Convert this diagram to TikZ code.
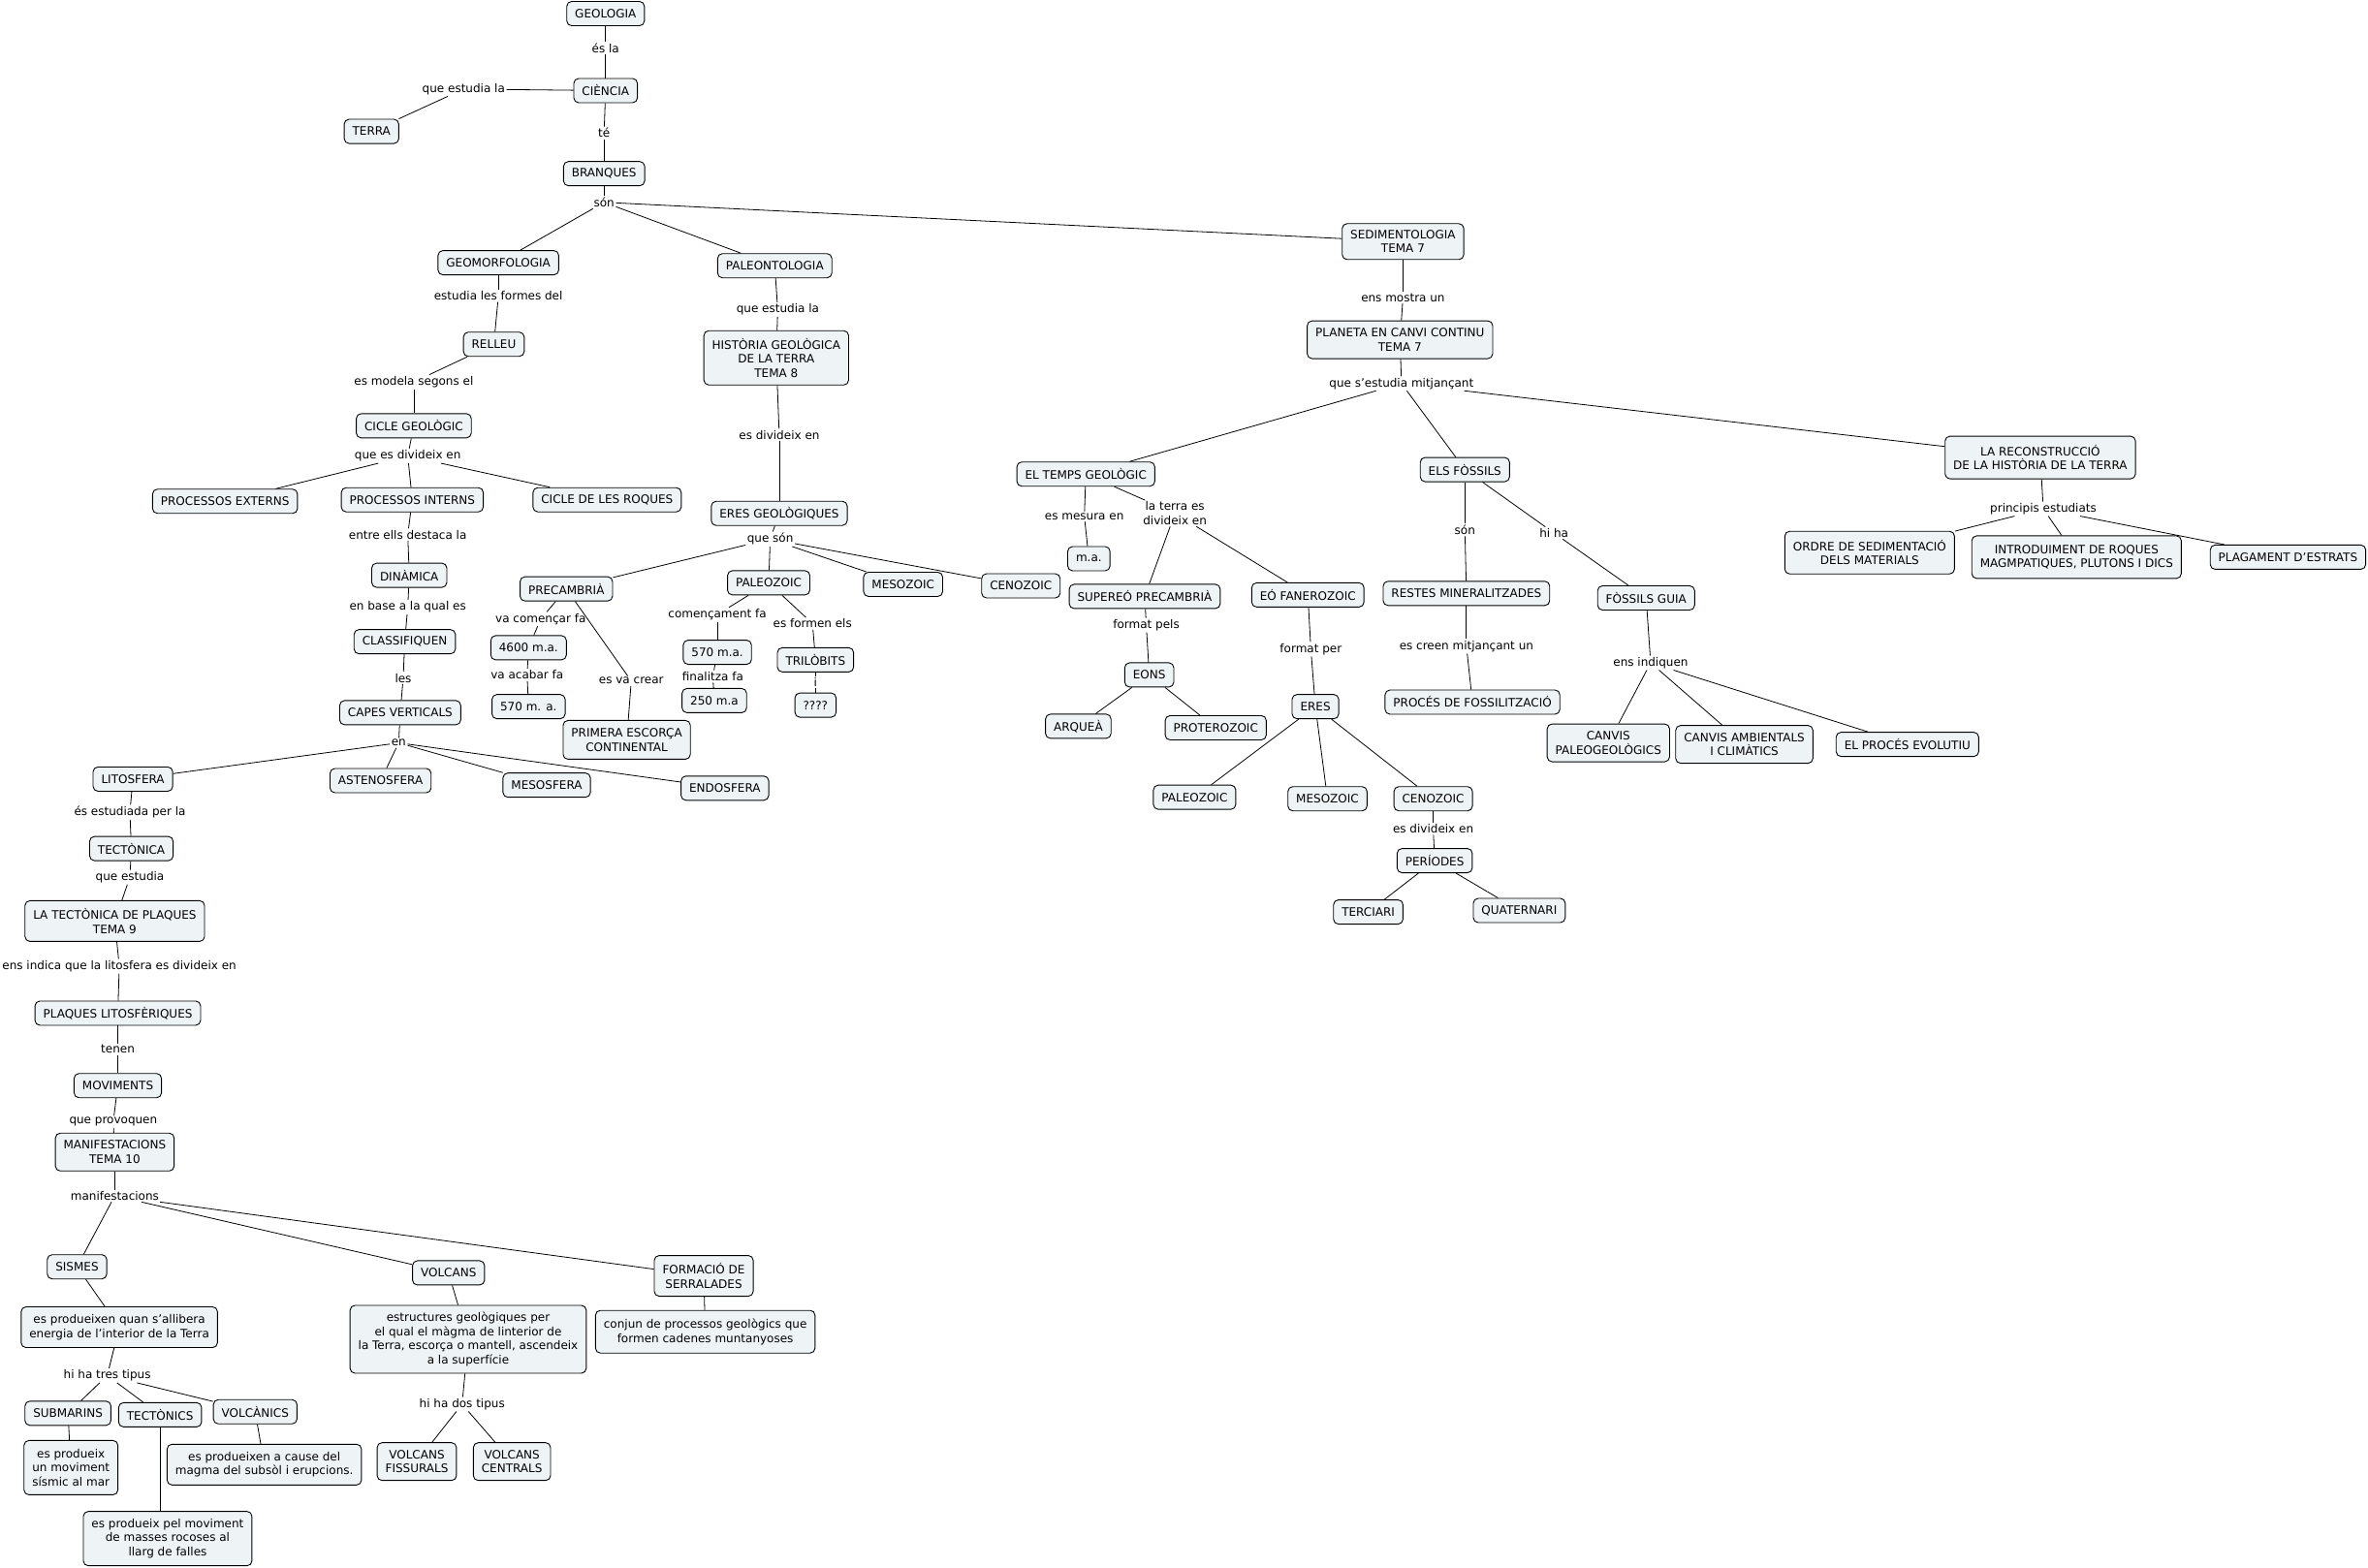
\documentclass[tikz,border=0pt]{standalone}
\usepackage{fontspec}
\setmainfont{DejaVu Sans}
\definecolor{boxfill}{RGB}{238,243,245}
\newcommand\mapfont{\fontsize{12}{14.5}\selectfont}
\tikzset{
  box/.style={draw=black, fill=boxfill, rounded corners=5pt, line width=0.9pt,
    inner xsep=8.5pt, inner ysep=4pt, minimum height=25pt, align=center, font=\mapfont},
  lbl/.style={inner sep=1.5pt, font=\mapfont, align=center},
  conn/.style={line width=0.8pt}
}
\begin{document}
\begin{tikzpicture}[x=1.558pt,y=-1.558pt]
\useasboundingbox[fill=white] (0,0) rectangle (1568,1038);
% ---------- top ----------
\node[box] (geologia) at (401,9) {GEOLOGIA};
\node[lbl] (l1) at (401,32) {és la};
\node[box] (ciencia) at (401,60) {CIÈNCIA};
\node[lbl] (l2) at (307,59) {que estudia la};
\node[box] (terra) at (246,87) {TERRA};
\node[lbl] (l3) at (400,88) {té};
\node[box] (branques) at (400,115) {BRANQUES};
\node[lbl] (l4) at (400,134) {són};
\node[box] (geomorf) at (330,174) {GEOMORFOLOGIA};
\node[box] (paleont) at (513,176) {PALEONTOLOGIA};
\node[box, minimum height=37pt] (sediment) at (929,160) {SEDIMENTOLOGIA\\TEMA 7};
% ---------- left branch ----------
\node[lbl] (l5) at (330,196) {estudia les formes del};
\node[box] (relleu) at (327,228) {RELLEU};
\node[lbl] (l6) at (274,253) {es modela segons el};
\node[box] (cicle) at (274,282) {CICLE GEOLÒGIC};
\node[lbl] (l7) at (270,302) {que es divideix en};
\node[box] (pext) at (149,332) {PROCESSOS EXTERNS};
\node[box] (pint) at (273,331) {PROCESSOS INTERNS};
\node[box] (croques) at (402,331) {CICLE DE LES ROQUES};
\node[lbl] (l8) at (270,354) {entre ells destaca la};
\node[box] (dinamica) at (271,381) {DINÀMICA};
\node[lbl] (l9) at (270,402) {en base a la qual es};
\node[box] (classif) at (268,425) {CLASSIFIQUEN};
\node[lbl] (l10) at (267,449) {les};
\node[box] (capes) at (265,472) {CAPES VERTICALS};
\node[lbl] (l11) at (264,492) {en};
\node[box] (lito) at (88,516) {LITOSFERA};
\node[box] (asteno) at (252,517) {ASTENOSFERA};
\node[box] (meso) at (362,520) {MESOSFERA};
\node[box] (endo) at (480,522) {ENDOSFERA};
\node[lbl] (l12) at (86,538) {és estudiada per la};
\node[box] (tectonica) at (87,562) {TECTÒNICA};
\node[lbl] (l13) at (86,581) {que estudia};
\node[box, minimum height=42pt] (tplaques) at (76,610) {LA TECTÒNICA DE PLAQUES\\TEMA 9};
\node[lbl] (l14) at (79,640) {ens indica que la litosfera es divideix en};
\node[box] (plaques) at (78,671) {PLAQUES LITOSFÈRIQUES};
\node[lbl] (l15) at (78,695) {tenen};
\node[box] (moviments) at (78,719) {MOVIMENTS};
\node[lbl] (l16) at (75,743) {que provoquen};
\node[box, minimum height=39pt] (manif) at (76,763) {MANIFESTACIONS\\TEMA 10};
\node[lbl] (l17) at (76,792) {manifestacions};
\node[box] (sismes) at (51,839) {SISMES};
\node[box] (volcans) at (297,843) {VOLCANS};
\node[box, minimum height=42pt] (formacio) at (466,845) {FORMACIÓ DE\\SERRALADES};
\node[box, minimum height=42pt] (bsismes) at (79,879) {es produeixen quan s'allibera\\energia de l'interior de la Terra};
\node[lbl] (l18) at (71,911) {hi ha tres tipus};
\node[box] (submarins) at (45,936) {SUBMARINS};
\node[box] (tectonics) at (106,937) {TECTÒNICS};
\node[box] (volcanics) at (169,935) {VOLCÀNICS};
\node[box, minimum height=56pt] (bsub) at (47,972) {es produeix\\un moviment\\sísmic al mar};
\node[box, minimum height=42pt] (bvol) at (175,970) {es produeixen a cause del\\magma del subsòl i erupcions.};
\node[box, minimum height=56pt] (btec) at (111,1019) {es produeix pel moviment\\de masses rocoses al\\llarg de falles};
\node[box, minimum height=70pt] (bvolcans) at (310,887) {estructures geològiques per\\el qual el màgma de linterior de\\la Terra, escorça o mantell, ascendeix\\a la superfície};
\node[lbl] (l19) at (306,930) {hi ha dos tipus};
\node[box, minimum height=39pt] (fiss) at (276,968) {VOLCANS\\FISSURALS};
\node[box, minimum height=39pt] (cent) at (339,968) {VOLCANS\\CENTRALS};
\node[box, minimum height=44pt] (bform) at (467,882) {conjun de processos geològics que\\formen cadenes muntanyoses};
% ---------- middle branch ----------
\node[lbl] (l20) at (515,205) {que estudia la};
\node[box, minimum height=56pt] (historia) at (514,237) {HISTÒRIA GEOLÒGICA\\DE LA TERRA\\TEMA 8};
\node[lbl] (l21) at (516,288) {es divideix en};
\node[box] (eresg) at (516,340) {ERES GEOLÒGIQUES};
\node[lbl] (l22) at (510,357) {que són};
\node[box] (precamb) at (375,390) {PRECAMBRIÀ};
\node[box] (paleoz) at (509,386) {PALEOZOIC};
\node[box] (mesoz) at (598,387) {MESOZOIC};
\node[box] (cenoz) at (676,388) {CENOZOIC};
\node[lbl] (l23) at (358,410) {va començar fa};
\node[box] (m4600) at (350,429) {4600 m.a.};
\node[lbl] (l24) at (349,447) {va acabar fa};
\node[box] (m570a) at (350,468) {570 m. a.};
\node[lbl] (l25) at (418,451) {es va crear};
\node[box, minimum height=40pt] (primera) at (415,490) {PRIMERA ESCORÇA\\CONTINENTAL};
\node[lbl] (l26) at (475,407) {començament fa};
\node[box] (m570b) at (475,432) {570 m.a.};
\node[lbl] (l27) at (472,448) {finalitza fa};
\node[box] (m250) at (473,464) {250 m.a};
\node[lbl] (l28) at (538,413) {es formen els};
\node[box] (trilo) at (540,437) {TRILÒBITS};
\node[lbl] (l29) at (540,452) {i};
\node[box] (qqqq) at (540,467) {????};
% ---------- right branch ----------
\node[lbl] (l30) at (929,197) {ens mostra un};
\node[box, minimum height=39pt] (planeta) at (927,225) {PLANETA EN CANVI CONTINU\\TEMA 7};
\node[lbl] (l31) at (928,254) {que s'estudia mitjançant};
\node[box] (temps) at (719,314) {EL TEMPS GEOLÒGIC};
\node[box] (fossils) at (970,311) {ELS FÒSSILS};
\node[box, minimum height=44pt] (recon) at (1351,303) {LA RECONSTRUCCIÓ\\DE LA HISTÒRIA DE LA TERRA};
\node[lbl] (l32) at (718,342) {es mesura en};
\node[box] (ma) at (721,370) {m.a.};
\node[lbl] (l33) at (778,340) {la terra es\\divideix en};
\node[box] (supereo) at (758,395) {SUPEREÓ PRECAMBRIÀ};
\node[box] (eo) at (866,394) {EÓ FANEROZOIC};
\node[lbl] (l34) at (759,414) {format pels};
\node[box] (eons) at (761,447) {EONS};
\node[box] (arquea) at (714,481) {ARQUEÀ};
\node[box] (protero) at (805,482) {PROTEROZOIC};
\node[lbl] (l35) at (868,430) {format per};
\node[box] (eres) at (871,468) {ERES};
\node[box] (paleoz2) at (791,528) {PALEOZOIC};
\node[box] (mesoz2) at (879,529) {MESOZOIC};
\node[box] (cenoz2) at (949,529) {CENOZOIC};
\node[lbl] (l36) at (949,549) {es divideix en};
\node[box] (periodes) at (950,570) {PERÍODES};
\node[box] (terciari) at (906,604) {TERCIARI};
\node[box] (quaternari) at (1006,603) {QUATERNARI};
\node[lbl] (l37) at (970,351) {són};
\node[box] (restes) at (971,393) {RESTES MINERALITZADES};
\node[lbl] (l38) at (971,428) {es creen mitjançant un};
\node[box] (proces) at (975,465) {PROCÉS DE FOSSILITZACIÓ};
\node[lbl] (l39) at (1029,353) {hi ha};
\node[box] (guia) at (1090,396) {FÒSSILS GUIA};
\node[lbl] (l40) at (1093,439) {ens indiquen};
\node[box, minimum height=39pt] (cpaleo) at (1065,492) {CANVIS\\PALEOGEOLÒGICS};
\node[box, minimum height=39pt] (camb) at (1155,493) {CANVIS AMBIENTALS\\I CLIMÀTICS};
\node[box] (evol) at (1263,493) {EL PROCÉS EVOLUTIU};
\node[lbl] (l41) at (1353,337) {principis estudiats};
\node[box, minimum height=44pt] (ordre) at (1238,366) {ORDRE DE SEDIMENTACIÓ\\DELS MATERIALS};
\node[box, minimum height=44pt] (intro) at (1375,369) {INTRODUIMENT DE ROQUES\\MAGMPATIQUES, PLUTONS I DICS};
\node[box] (plag) at (1515,369) {PLAGAMENT D'ESTRATS};
% ---------- connectors ----------
\begin{scope}[conn]
\draw (geologia) -- (l1); \draw (l1) -- (ciencia);
\draw (ciencia) -- (l2); \draw (l2) -- (terra);
\draw (ciencia) -- (l3); \draw (l3) -- (branques);
\draw (branques) -- (l4); \draw (l4) -- (geomorf); \draw (l4) -- (paleont); \draw (l4) -- (sediment);
\draw (geomorf) -- (l5); \draw (l5) -- (relleu);
\draw (relleu) -- (l6); \draw (l6) -- (cicle);
\draw (cicle) -- (l7); \draw (l7) -- (pext); \draw (l7) -- (pint); \draw (l7) -- (croques);
\draw (pint) -- (l8); \draw (l8) -- (dinamica);
\draw (dinamica) -- (l9); \draw (l9) -- (classif);
\draw (classif) -- (l10); \draw (l10) -- (capes);
\draw (capes) -- (l11); \draw (l11) -- (lito); \draw (l11) -- (asteno); \draw (l11) -- (meso); \draw (l11) -- (endo);
\draw (lito) -- (l12); \draw (l12) -- (tectonica);
\draw (tectonica) -- (l13); \draw (l13) -- (tplaques);
\draw (tplaques) -- (l14); \draw (l14) -- (plaques);
\draw (plaques) -- (l15); \draw (l15) -- (moviments);
\draw (moviments) -- (l16); \draw (l16) -- (manif);
\draw (manif) -- (l17); \draw (l17) -- (sismes); \draw (l17) -- (volcans); \draw (l17) -- (formacio);
\draw (sismes) -- (bsismes);
\draw (bsismes) -- (l18); \draw (l18) -- (submarins); \draw (l18) -- (tectonics); \draw (l18) -- (volcanics);
\draw (submarins) -- (bsub); \draw (tectonics.south) -- (btec.north -| tectonics.south); \draw (volcanics) -- (bvol);
\draw (volcans) -- (bvolcans);
\draw (bvolcans) -- (l19); \draw (l19) -- (fiss); \draw (l19) -- (cent);
\draw (formacio) -- (bform);
\draw (paleont) -- (l20); \draw (l20) -- (historia);
\draw (historia) -- (l21); \draw (l21) -- (eresg);
\draw (eresg) -- (l22); \draw (l22) -- (precamb); \draw (l22) -- (paleoz); \draw (l22) -- (mesoz); \draw (l22) -- (cenoz);
\draw (precamb) -- (l23); \draw (l23) -- (m4600);
\draw (m4600) -- (l24); \draw (l24) -- (m570a);
\draw (precamb) -- (l25); \draw (l25) -- (primera);
\draw (paleoz) -- (l26); \draw (l26) -- (m570b);
\draw (m570b) -- (l27); \draw (l27) -- (m250);
\draw (paleoz) -- (l28); \draw (l28) -- (trilo);
\draw (trilo) -- (l29); \draw (l29) -- (qqqq);
\draw (sediment) -- (l30); \draw (l30) -- (planeta);
\draw (planeta) -- (l31); \draw (l31) -- (temps); \draw (l31) -- (fossils); \draw (l31) -- (recon);
\draw (temps) -- (l32); \draw (l32) -- (ma);
\draw (temps) -- (l33); \draw (l33) -- (supereo); \draw (l33) -- (eo);
\draw (supereo) -- (l34); \draw (l34) -- (eons);
\draw (eons) -- (arquea); \draw (eons) -- (protero);
\draw (eo) -- (l35); \draw (l35) -- (eres);
\draw (eres) -- (paleoz2); \draw (eres) -- (mesoz2); \draw (eres) -- (cenoz2);
\draw (cenoz2) -- (l36); \draw (l36) -- (periodes);
\draw (periodes) -- (terciari); \draw (periodes) -- (quaternari);
\draw (fossils) -- (l37); \draw (l37) -- (restes);
\draw (restes) -- (l38); \draw (l38) -- (proces);
\draw (fossils) -- (l39); \draw (l39) -- (guia);
\draw (guia) -- (l40); \draw (l40) -- (cpaleo); \draw (l40) -- (camb); \draw (l40) -- (evol);
\draw (recon) -- (l41); \draw (l41) -- (ordre); \draw (l41) -- (intro); \draw (l41) -- (plag);
\end{scope}
\end{tikzpicture}
\end{document}
